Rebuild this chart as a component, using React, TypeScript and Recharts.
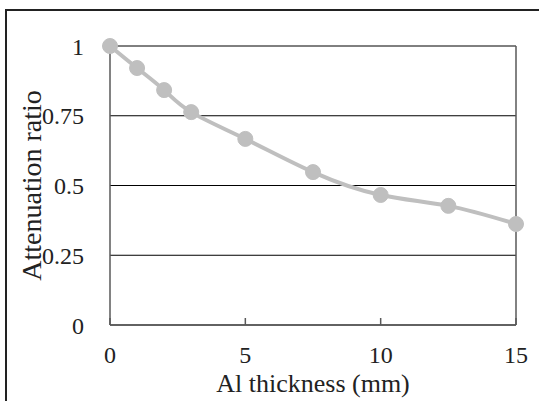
import { LineChart, Line, XAxis, YAxis, CartesianGrid, ReferenceLine, Label } from 'recharts';

const thickness = [0, 1, 2, 3, 5, 7.5, 10, 12.5, 15];
const ratio = [1, 0.921, 0.842, 0.763, 0.667, 0.548, 0.466, 0.427, 0.362];
const xTicks = [0, 5, 10, 15];
const yTicks = [0, 0.25, 0.5, 0.75, 1];

const FONT = '"Liberation Serif", "Times New Roman", serif';
const X_TICK_MARGIN = 22;

const data = thickness.map((t, i) => ({ t, r: ratio[i] }));

// tick mark points into the plot (Excel style), label sits below the axis
function XTick(props: any) {
  const { x, y, payload } = props;
  const axisY = y - X_TICK_MARGIN;
  return (
    <g>
      <line x1={x} x2={x} y1={axisY} y2={axisY - 7} stroke="#595959" strokeWidth={1.5} />
      <text x={x} y={y} dy="0.68em" textAnchor="middle" fontSize={24} fontFamily={FONT} fill="#222">
        {payload.value}
      </text>
    </g>
  );
}

export default function App() {
  return (
    <div style={{ position: 'absolute', left: 0, top: 0, width: 539, height: 401, background: '#fff' }}>
      <div
        style={{
          position: 'absolute',
          left: 5,
          top: 9,
          width: 540,
          height: 400,
          borderTop: '2px solid #222',
          borderLeft: '2px solid #222',
        }}
      />
      <div style={{ position: 'absolute', left: 0, top: 0 }}>
        <LineChart width={539} height={401} data={data} margin={{ top: 46, right: 23, bottom: 0, left: 0 }}>
          <CartesianGrid vertical={false} stroke="#000" strokeWidth={1} horizontalValues={yTicks} />
          <XAxis
            dataKey="t"
            type="number"
            domain={[0, 15]}
            ticks={xTicks}
            height={76}
            axisLine={{ stroke: '#595959', strokeWidth: 1.5 }}
            tickLine={false}
            tickSize={0}
            tickMargin={X_TICK_MARGIN}
            tick={<XTick />}
            interval={0}
          >
            <Label
              value="Al thickness (mm)"
              position="insideBottom"
              offset={9}
              style={{ fontSize: 26, fontFamily: FONT, fill: '#222' }}
            />
          </XAxis>
          <YAxis
            type="number"
            domain={[0, 1]}
            ticks={yTicks}
            width={110}
            axisLine={{ stroke: '#595959', strokeWidth: 1.5 }}
            tickLine={false}
            tickSize={0}
            tickMargin={26}
            tick={{ fontSize: 24, fontFamily: FONT, fill: '#222' }}
            interval={0}
          >
            <Label
              value="Attenuation ratio"
              angle={-90}
              position="insideLeft"
              offset={31}
              style={{ fontSize: 28, fontFamily: FONT, fill: '#222', textAnchor: 'middle' }}
            />
          </YAxis>
          <ReferenceLine x={15} stroke="#595959" strokeWidth={1.5} />
          <Line
            type="natural"
            dataKey="r"
            stroke="#bfbfbf"
            strokeWidth={4}
            dot={{ r: 7.5, fill: '#bfbfbf', stroke: '#bfbfbf', strokeWidth: 1 }}
            activeDot={false}
            isAnimationActive={false}
          />
        </LineChart>
      </div>
    </div>
  );
}
